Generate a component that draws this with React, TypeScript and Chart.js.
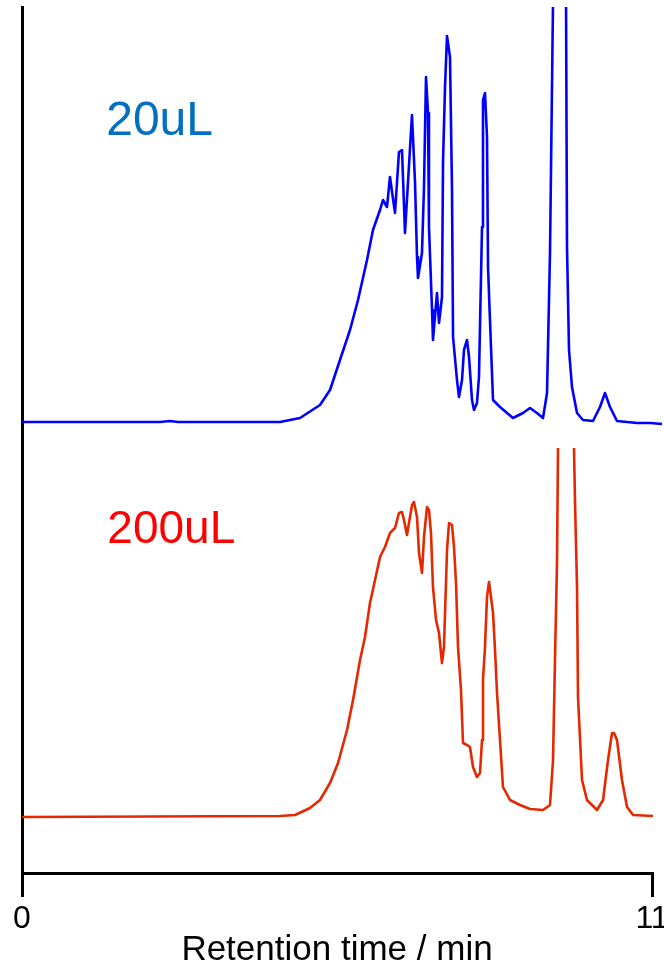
import React, { useEffect, useRef } from "react";
import { Chart, registerables } from "chart.js";

Chart.register(...registerables);

// Retention time (min) and detector signal (arbitrary units) for the 20 uL injection
const blueTime = [0, 2.41, 2.584, 2.724, 4.505, 4.854, 5.203, 5.378, 5.552, 5.727, 5.867, 6.024, 6.128, 6.251, 6.303, 6.373, 6.425, 6.513, 6.582, 6.635, 6.687, 6.775, 6.809, 6.862, 6.897, 6.914, 6.984, 7.019, 7.054, 7.089, 7.106, 7.159, 7.176, 7.246, 7.281, 7.333, 7.351, 7.386, 7.421, 7.473, 7.508, 7.526, 7.595, 7.63, 7.683, 7.717, 7.77, 7.805, 7.857, 7.892, 7.944, 7.979, 8.032, 8.049, 8.084, 8.119, 8.137, 8.171, 8.224, 8.346, 8.573, 8.748, 8.87, 8.992, 9.097, 9.167, 9.219, 9.272, 9.324, 9.376, 9.429, 9.499, 9.516, 9.551, 9.603, 9.691, 9.795, 9.97, 10.092, 10.179, 10.267, 10.389, 10.738, 10.965, 11.175];
const blueSignal = [0, 0, 1, 0, 0, 4, 17, 32, 62, 92, 122, 162, 192, 212, 222, 215, 245, 209, 270, 272, 189, 274, 307, 240, 165, 144, 169, 235, 345, 309, 195, 112, 82, 129, 99, 125, 259, 335, 386, 365, 232, 85, 42, 25, 42, 72, 82, 65, 22, 12, 19, 45, 195, 322, 329, 285, 155, 102, 22, 15, 4, 9, 14, 9, 4, 29, 169, 422, 722, 822, 722, 422, 175, 72, 35, 9, 2, 1, 15, 29, 15, 1, -1, -1, -2];

// Retention time (min) and detector signal for the 200 uL injection
const redTime = [0, 4.505, 4.767, 5.029, 5.203, 5.378, 5.518, 5.675, 5.78, 5.902, 5.989, 6.076, 6.164, 6.251, 6.338, 6.425, 6.513, 6.582, 6.635, 6.67, 6.722, 6.757, 6.81, 6.844, 6.897, 6.932, 6.984, 7.019, 7.071, 7.106, 7.141, 7.176, 7.229, 7.281, 7.333, 7.368, 7.421, 7.456, 7.508, 7.543, 7.578, 7.613, 7.665, 7.7, 7.77, 7.822, 7.875, 7.944, 7.997, 8.032, 8.049, 8.084, 8.119, 8.154, 8.189, 8.224, 8.259, 8.294, 8.346, 8.398, 8.521, 8.695, 8.87, 9.097, 9.219, 9.272, 9.307, 9.341, 9.359, 9.411, 9.499, 9.586, 9.638, 9.656, 9.691, 9.708, 9.778, 9.865, 10.04, 10.145, 10.232, 10.302, 10.337, 10.389, 10.476, 10.564, 10.669, 11.018];
const redSignal = [0, 1, 2, 9, 17, 34, 54, 87, 117, 157, 180, 214, 237, 260, 270, 284, 289, 304, 305, 297, 282, 294, 312, 315, 300, 264, 244, 280, 310, 307, 284, 230, 197, 184, 154, 170, 267, 294, 292, 270, 234, 170, 127, 74, 72, 70, 50, 40, 44, 77, 137, 170, 220, 235, 220, 204, 167, 124, 77, 30, 17, 12, 8, 7, 12, 57, 160, 254, 369, 617, 717, 617, 369, 314, 230, 120, 37, 17, 7, 17, 57, 84, 84, 77, 37, 10, 2, 1];

const xTicks = [0, 11];
const seriesLabels = ["20uL", "200uL"];
// label anchor in data units: [time, signal]
const labelAnchors = [
  [1.47, 287],
  [1.49, 274],
];

const FONT = "'Liberation Sans', Arial, Helvetica, sans-serif";

const bandClip = {
  id: "bandClip",
  beforeDatasetDraw(chart: any, args: any) {
    const ys = chart.scales[args.meta.yAxisID];
    const ctx = chart.ctx;
    ctx.save();
    ctx.beginPath();
    ctx.rect(chart.chartArea.left, ys.top, chart.width - chart.chartArea.left, ys.bottom - ys.top);
    ctx.clip();
  },
  afterDatasetDraw(chart: any) {
    chart.ctx.restore();
  },
};

const seriesText = {
  id: "seriesText",
  afterDatasetsDraw(chart: any) {
    const ctx = chart.ctx;
    const xs = chart.scales.x;
    const axes = ["yBlue", "yRed"];
    const colors = ["#0070C0", "#FF0000"];
    const sizes = [48, 46];
    ctx.save();
    ctx.textAlign = "left";
    ctx.textBaseline = "alphabetic";
    seriesLabels.forEach((txt, i) => {
      const ys = chart.scales[axes[i]];
      ctx.font = `${sizes[i]}px ${FONT}`;
      ctx.fillStyle = colors[i];
      ctx.fillText(txt, xs.getPixelForValue(labelAnchors[i][0]), ys.getPixelForValue(labelAnchors[i][1]));
    });
    ctx.restore();
  },
};

export default function App() {
  const ref = useRef<HTMLCanvasElement | null>(null);
  useEffect(() => {
    document.body.style.margin = "0";
    const canvas = ref.current;
    if (!canvas) return;
    const blue = blueTime.map((t, i) => ({ x: t, y: blueSignal[i] }));
    const red = redTime.map((t, i) => ({ x: t, y: redSignal[i] }));
    const chart = new Chart(canvas, {
      type: "line",
      data: {
        datasets: [
          {
            label: seriesLabels[0],
            data: blue,
            yAxisID: "yBlue",
            borderColor: "#0000FF",
            borderWidth: 2.6,
            pointRadius: 0,
            tension: 0,
            borderJoinStyle: "round",
            clip: false,
          },
          {
            label: seriesLabels[1],
            data: red,
            yAxisID: "yRed",
            borderColor: "#E62800",
            borderWidth: 2.6,
            pointRadius: 0,
            tension: 0,
            borderJoinStyle: "round",
            clip: false,
          },
        ],
      },
      options: {
        responsive: false,
        animation: false,
        events: [],
        layout: { padding: { left: 22, right: 12, top: 7, bottom: 0 } },
        plugins: { legend: { display: false }, tooltip: { enabled: false } },
        scales: {
          x: {
            type: "linear",
            min: 0,
            max: 11,
            afterBuildTicks: (s: any) => {
              s.ticks = xTicks.map((v) => ({ value: v }));
            },
            afterFit: (s: any) => {
              s.paddingRight = 0;
              s.paddingLeft = 0;
            },
            ticks: {
              color: "#000",
              padding: 6,
              maxRotation: 0,
              autoSkip: false,
              font: { family: FONT, size: 32, lineHeight: 1 },
              callback: (v: any) => String(v),
            },
            grid: {
              display: true,
              drawOnChartArea: false,
              drawTicks: true,
              tickLength: 24,
              color: "#000",
              lineWidth: 3,
            },
            border: { display: true, color: "#000", width: 3 },
            title: {
              display: true,
              text: "Retention time / min",
              color: "#000",
              font: { family: FONT, size: 35, lineHeight: 1 },
              padding: { top: -8, bottom: 0 },
            },
          },
          yBlue: {
            type: "linear",
            position: "left",
            stack: "traces",
            stackWeight: 441,
            weight: 1,
            min: -26,
            max: 415,
            ticks: { display: false },
            grid: { display: false, drawTicks: false },
            border: { display: true, color: "#000", width: 3 },
          },
          yRed: {
            type: "linear",
            position: "left",
            stack: "traces",
            stackWeight: 425,
            weight: 0,
            min: -56,
            max: 369,
            ticks: { display: false },
            grid: { display: false, drawTicks: false },
            border: { display: true, color: "#000", width: 3 },
          },
        },
      } as any,
      plugins: [bandClip, seriesText],
    });
    return () => chart.destroy();
  }, []);
  return <canvas ref={ref} width={664} height={968} style={{ display: "block" }} />;
}
